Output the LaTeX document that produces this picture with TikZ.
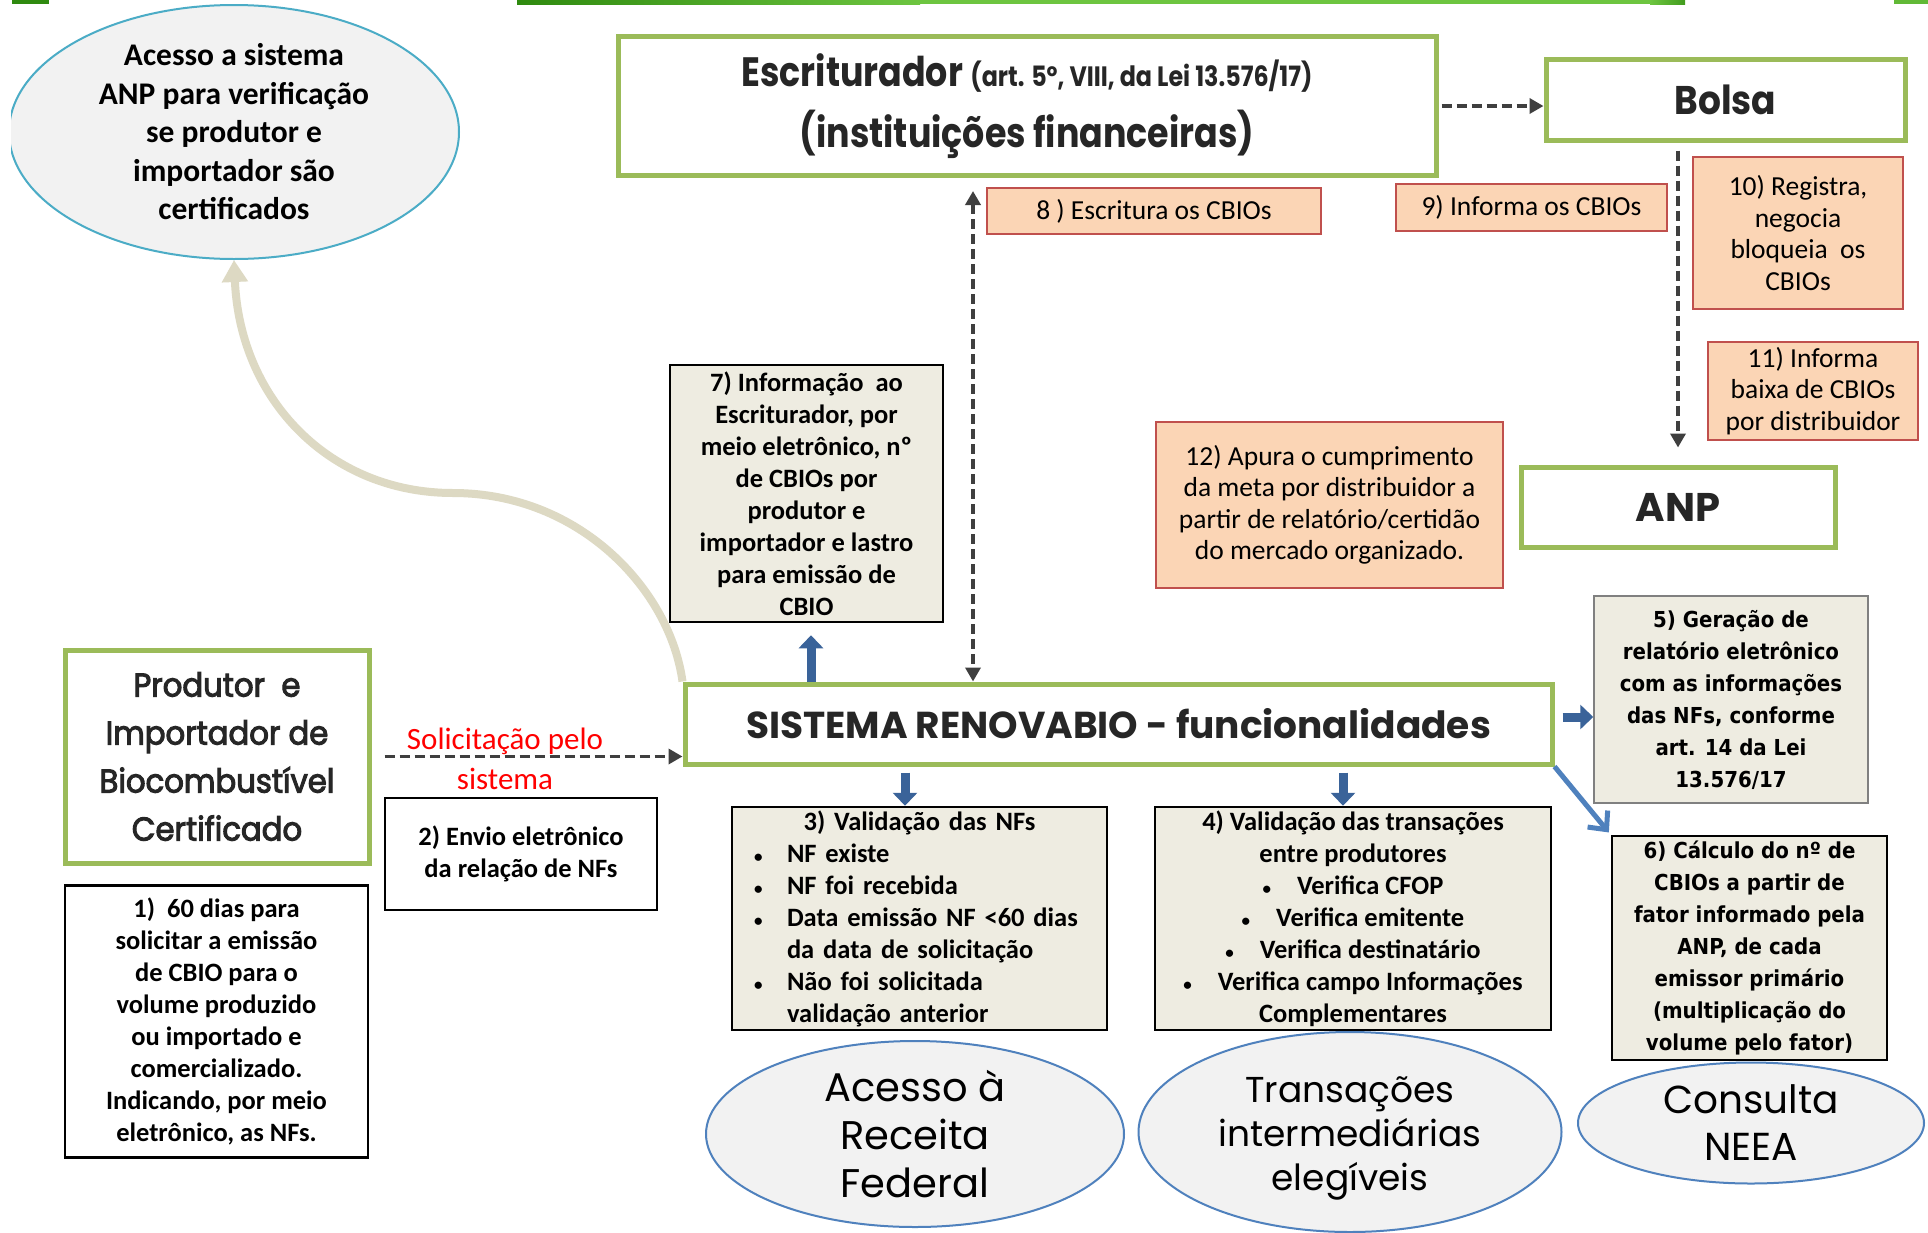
\documentclass[tikz,border=0pt]{standalone}
\usepackage{fontspec}
\setmainfont{Carlito}
\newfontfamily\gothic{Poppins}
\newfontfamily\gothicm[FakeBold=3,FakeStretch=0.93]{Poppins}
\newfontfamily\gothicb[FakeStretch=0.85]{Poppins}
\newfontfamily\gothicc[FakeStretch=0.9]{Poppins}
\newfontfamily\gothicB{Poppins}
\newfontfamily\verd[FakeStretch=0.9]{DejaVu Sans}
\usetikzlibrary{arrows.meta,shapes.geometric}
\pgfdeclarelayer{bg}
\pgfsetlayers{bg,main}
\definecolor{grn}{HTML}{9BBB59}
\definecolor{peachf}{HTML}{FBD5B5}
\definecolor{redb}{HTML}{C0504D}
\definecolor{beigef}{HTML}{EEECE1}
\definecolor{ellf}{HTML}{F2F2F2}
\definecolor{tealb}{HTML}{4BACC6}
\definecolor{ellb}{HTML}{4F81BD}
\definecolor{darrow}{HTML}{3F3F3F}
\definecolor{barrow}{HTML}{3A6399}
\definecolor{curvec}{HTML}{DDD9C3}
\definecolor{topdk}{HTML}{2F8A0F}
\definecolor{toplt}{HTML}{6DC540}
\definecolor{hdr}{HTML}{262626}
\newcommand\fntB{\fontsize{26.5}{32}\selectfont\bfseries}
\newcommand\fntR{\fontsize{27.5}{31.5}\selectfont}
\newcommand\bul{{\fontsize{17}{17}\selectfont\textbullet}}
\begin{document}
\begin{tikzpicture}[x=1pt,y=-1pt,
  gbox/.style={draw=grn, line width=5pt, fill=white, inner sep=0pt, align=center, text=hdr},
  pbox/.style={draw=redb, line width=2.5pt, fill=peachf, inner sep=0pt, align=center, font=\fntR},
  bbox/.style={draw=black, line width=2.5pt, fill=beigef, inner sep=0pt, align=center, font=\fntB},
  wbox/.style={draw=black, line width=2.5pt, fill=white, inner sep=0pt, align=center, font=\fntB},
  ell/.style={ellipse, draw=ellb, line width=2pt, fill=ellf, inner sep=0pt, align=center},
  dasharr/.style={draw=darrow, line width=3.5pt, dash pattern=on 10pt off 5pt, -{Triangle[width=15pt,length=14pt]}},
  blockarr/.style={draw=barrow, line width=9pt, -{Triangle[width=24pt,length=13pt]}},
]
\useasboundingbox (0,0) rectangle (1928,1232);
\begin{pgfonlayer}{bg}
\fill[white] (0,0) rectangle (1928,1232);
\end{pgfonlayer}
% top bar
\fill[topdk] (12,0) rectangle (49,4);
\shade[left color=topdk, right color=toplt] (517,0) rectangle (920,4);
\fill[toplt] (920,0) rectangle (1650,4);
\shade[left color=toplt, right color=topdk!70!toplt] (1650,0) rectangle (1685,4);
\fill[toplt!80!topdk] (1894,0) rectangle (1928,4);

% top ellipse
\begin{scope}
\clip (11,0) rectangle (1928,1232);
\node[ell, draw=tealb, minimum width=450pt, minimum height=254pt, font=\fontsize{31.5}{38.5}\selectfont\bfseries] (e1) at (234,132) {Acesso a sistema\\ANP para verificação\\se produtor e\\importador são\\certificados};
\end{scope}

% green header boxes
\node[gbox, minimum width=818pt, minimum height=139pt, font=\gothicb\bfseries\fontsize{41}{61}\selectfont] (esc) at (1027,106) {Escriturador {\fontsize{28}{61}\selectfont(art. 5º, VIII, da Lei 13.576/17)}\\(instituições financeiras)};
\node[gbox, minimum width=359pt, minimum height=81pt, font=\gothicc\bfseries\fontsize{40}{48}\selectfont] (bolsa) at (1725.5,99.5) {Bolsa};
\node[gbox, minimum width=314pt, minimum height=80pt, font=\gothicB\bfseries\fontsize{40}{48}\selectfont] (anp) at (1678,507) {ANP};
\node[gbox, minimum width=867pt, minimum height=80pt, font=\gothicB\bfseries\fontsize{37.5}{44}\selectfont] (sis) at (1118.5,724) {SISTEMA RENOVABIO - funcionalidades};
\node[gbox, minimum width=304pt, minimum height=213pt, font=\gothicm\fontsize{33}{48}\selectfont] (prod) at (217,756.5) {Produtor~~e\\Importador de\\Biocombustível\\Certificado};

% peach boxes
\node[pbox, minimum width=334pt, minimum height=46pt] (p8) at (1154,211) {8 ) Escritura os CBIOs};
\node[pbox, minimum width=271pt, minimum height=47pt] (p9) at (1531.5,207.5) {9) Informa os CBIOs};
\node[pbox, minimum width=210pt, minimum height=152pt] (p10) at (1798,233) {10) Registra,\\negocia\\bloqueia~ os\\CBIOs};
\node[pbox, minimum width=210pt, minimum height=98pt] (p11) at (1813,391) {11) Informa\\baixa de CBIOs\\por distribuidor};
\node[pbox, minimum width=347pt, minimum height=166pt] (p12) at (1329.5,505) {12) Apura o cumprimento\\da meta por distribuidor a\\partir de relatório/certidão\\do mercado organizado.};

% beige / white boxes
\node[bbox, minimum width=273pt, minimum height=257pt] (b7) at (806.5,493.5) {7) Informação~ ao\\Escriturador, por\\meio eletrônico, nº\\de CBIOs por\\produtor e\\importador e lastro\\para emissão de\\CBIO};
\node[wbox, minimum width=303pt, minimum height=272pt] (b1) at (216.5,1021.5) {1)~ 60 dias para\\solicitar a emissão\\de CBIO para o\\volume produzido\\ou importado e\\comercializado.\\Indicando, por meio\\eletrônico, as NFs.};
\node[wbox, minimum width=272pt, minimum height=112pt] (b2) at (521,854) {2) Envio eletrônico\\da relação de NFs};
\node[bbox, minimum width=375pt, minimum height=223pt, text width=331pt, align=left] (b3) at (919.5,918.5) {\makebox[331pt]{3) Validação das NFs}\\\makebox[33pt][l]{\bul}NF existe\\\makebox[33pt][l]{\bul}NF foi recebida\\\makebox[33pt][l]{\bul}Data emissão NF <60 dias\\\hspace*{33pt}da data de solicitação\\\makebox[33pt][l]{\bul}Não foi solicitada\\\hspace*{33pt}validação anterior};
\node[bbox, minimum width=396pt, minimum height=223pt] (b4) at (1353,918.5) {4) Validação das transações\\entre produtores\\\bul\hspace{26pt}Verifica CFOP\\\bul\hspace{26pt}Verifica emitente\\\bul\hspace{26pt}Verifica destinatário\\\bul\hspace{26pt}Verifica campo Informações\\Complementares};
\node[bbox, draw=gray, line width=1.5pt, minimum width=274pt, minimum height=207pt, font=\verd\bfseries\fontsize{22}{32}\selectfont] (b5) at (1731,699.5) {5) Geração de\\relatório eletrônico\\com as informações\\das NFs, conforme\\art. 14 da Lei\\13.576/17};
\node[bbox, minimum width=275pt, minimum height=224pt, font=\verd\bfseries\fontsize{22}{32}\selectfont] (b6) at (1749.5,948) {6) Cálculo do nº de\\CBIOs a partir de\\fator informado pela\\ANP, de cada\\emissor primário\\(multiplicação do\\volume pelo fator)};

% bottom ellipses
\node[ell, minimum width=418pt, minimum height=186pt, font=\gothic\fontsize{40}{48}\selectfont] (erf) at (915,1134) {Acesso à\\Receita\\Federal};
\node[ell, minimum width=423pt, minimum height=200pt] (etr) at (1350,1132) {};
\node[align=center, inner sep=0pt, font=\gothic\fontsize{36}{44}\selectfont] (etrt) at (1350,1138) {Transações\\intermediárias\\elegíveis};
\node[ell, minimum width=346pt, minimum height=121pt, font=\gothic\fontsize{39}{47}\selectfont] (eco) at (1751,1123) {Consulta\\NEEA};

% red label
\node[text=red, font=\fontsize{31}{38}\selectfont, anchor=base, inner sep=0pt] (sol1) at (505,749) {Solicitação pelo};
\node[text=red, font=\fontsize{31}{38}\selectfont, anchor=base, inner sep=0pt] (sol2) at (505,789) {sistema};

% connectors
\coordinate (vdx) at (973,0);
\coordinate (ux) at (811,0);
\coordinate (dx1) at (905,0);
\coordinate (dx2) at (1343,0);
\coordinate (ry) at (0,717);
\draw[dasharr, shorten <=13pt] (prod.east) -- (prod.east -| sis.west);
\draw[dasharr, shorten <=3pt] (esc.east) -- (esc.east -| bolsa.west);
\draw[dasharr, shorten <=8pt, shorten >=17pt] (anp.north |- bolsa.south) -- (anp.north);
\draw[dasharr, {Triangle[width=15pt,length=14pt]}-{Triangle[width=15pt,length=14pt]}, shorten <=13pt] (esc.south -| vdx) -- (sis.north -| vdx);
\draw[blockarr, shorten >=12pt] (sis.north -| ux) -- (b7.south -| ux);
\draw[blockarr, shorten <=6pt] (sis.south -| dx1) -- (b3.north -| dx1);
\draw[blockarr, shorten <=6pt] (sis.south -| dx2) -- (b4.north -| dx2);
\draw[blockarr, shorten <=8pt] (sis.east |- ry) -- (b5.west |- ry);
\draw[draw=ellb, line width=5pt, -{Straight Barb[length=14pt,width=26pt]}, shorten >=3pt] (sis.south east) -- (b6.north west);
\begin{pgfonlayer}{bg}
\draw[draw=curvec, line width=8pt, -{Triangle[width=25pt,length=22pt]}] (sis.north west) .. controls (670,590) and (580,493) .. (453,493) .. controls (330,493) and (240,400) .. (e1.south);
\end{pgfonlayer}
\end{tikzpicture}
\end{document}
